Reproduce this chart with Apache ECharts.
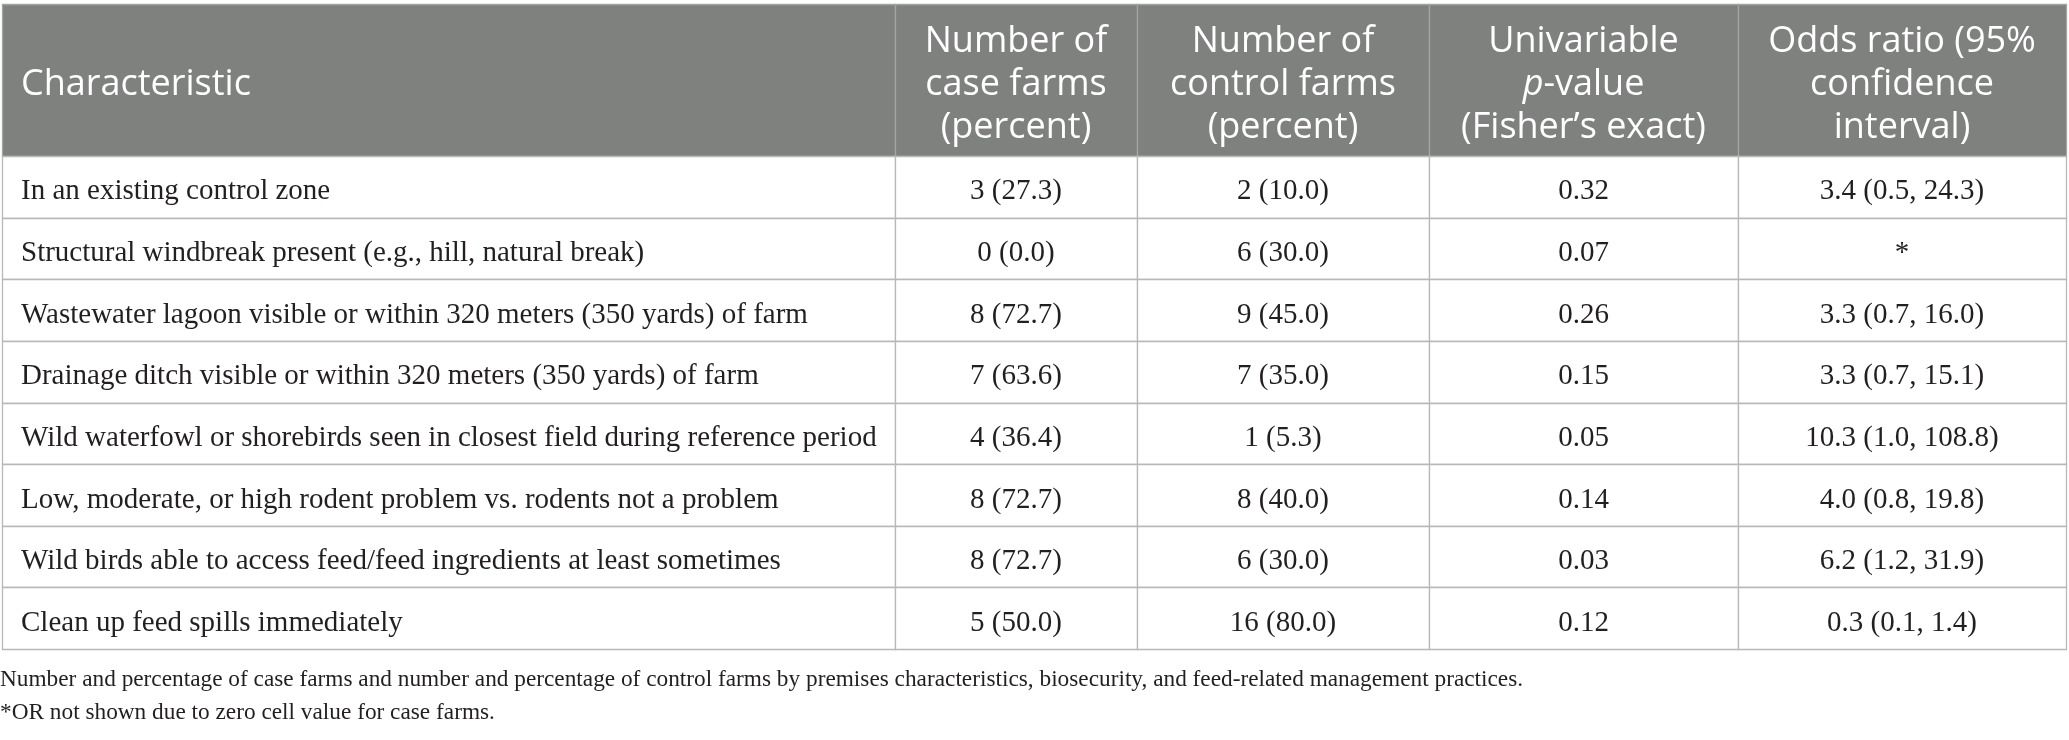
<!DOCTYPE html>
<html>
<head>
<meta charset="utf-8">
<title>Case-control farm characteristics</title>
<script src="https://cdn.jsdelivr.net/npm/echarts@6/dist/echarts.min.js"></script>
<style>
    html, body { margin: 0; padding: 0; background: #fff; }
    #main { width: 2069px; height: 740px; }
</style>
</head>
<body>
<div id="main"></div>
<script>
    // table content
    var characteristics = [
        'In an existing control zone',
        'Structural windbreak present (e.g., hill, natural break)',
        'Wastewater lagoon visible or within 320 meters (350 yards) of farm',
        'Drainage ditch visible or within 320 meters (350 yards) of farm',
        'Wild waterfowl or shorebirds seen in closest field during reference period',
        'Low, moderate, or high rodent problem vs. rodents not a problem',
        'Wild birds able to access feed/feed ingredients at least sometimes',
        'Clean up feed spills immediately'
    ];
    var caseCounts = [3, 0, 8, 7, 4, 8, 8, 5];
    var casePct = [27.3, 0.0, 72.7, 63.6, 36.4, 72.7, 72.7, 50.0];
    var controlCounts = [2, 6, 9, 7, 1, 8, 6, 16];
    var controlPct = [10.0, 30.0, 45.0, 35.0, 5.3, 40.0, 30.0, 80.0];
    var pValues = [0.32, 0.07, 0.26, 0.15, 0.05, 0.14, 0.03, 0.12];
    var oddsRatio = [3.4, null, 3.3, 3.3, 10.3, 4.0, 6.2, 0.3];
    var orLower = [0.5, null, 0.7, 0.7, 1.0, 0.8, 1.2, 0.1];
    var orUpper = [24.3, null, 16.0, 15.1, 108.8, 19.8, 31.9, 1.4];

    var headers = [
        '{h|Characteristic}',
        '{h|Number of}\n{h|case farms}\n{h|(percent)}',
        '{h|Number of}\n{h|control farms}\n{h|(percent)}',
        '{h|Univariable}\n{hi|p}{h|-value}\n{h|(Fisher\u2019s exact)}',
        '{h|Odds ratio (95%}\n{h|confidence}\n{h|interval)}'
    ];
    var footnotes = [
        'Number and percentage of case farms and number and percentage of control farms by premises characteristics, biosecurity, and feed-related management practices.',
        '*OR not shown due to zero cell value for case farms.'
    ];

    // layout (in grid units = pixels)
    var colEdges = [0, 893, 1135, 1427, 1736, 2064];
    var tableH = 645;
    var headerH = 152;
    var rowH = (tableH - headerH) / characteristics.length;

    var headFont = '"Open Sans", "Noto Sans", sans-serif';
    var bodyFont = '"Liberation Serif", "DejaVu Serif", serif';

    function cellText(col, row) {
        if (row < 0) return headers[col];
        if (col === 0) return characteristics[row];
        if (col === 1) return caseCounts[row] + ' (' + casePct[row].toFixed(1) + ')';
        if (col === 2) return controlCounts[row] + ' (' + controlPct[row].toFixed(1) + ')';
        if (col === 3) return pValues[row].toFixed(2);
        if (oddsRatio[row] == null) return '*';
        return oddsRatio[row].toFixed(1) + ' (' + orLower[row].toFixed(1) + ', ' + orUpper[row].toFixed(1) + ')';
    }

    var cells = [];
    for (var r = -1; r < characteristics.length; r++) {
        for (var c = 0; c < colEdges.length - 1; c++) {
            cells.push([c, r]);
        }
    }

    function renderItem(params, api) {
        var col = api.value(0);
        var row = api.value(1);
        var y0 = row < 0 ? 0 : headerH + row * rowH;
        var y1 = row < 0 ? headerH : y0 + rowH;
        var p0 = api.coord([colEdges[col], y0]);
        var p1 = api.coord([colEdges[col + 1], y1]);
        var isHead = row < 0;
        var left = col === 0;
        var tx = left ? p0[0] + 19 : (p0[0] + p1[0]) / 2;
        var ty = (p0[1] + p1[1]) / 2;
        var textStyle;
        if (isHead) {
            textStyle = {
                x: tx, y: ty + 5,
                text: cellText(col, row),
                align: left ? 'left' : 'center',
                verticalAlign: 'middle',
                rich: {
                    h: { fontFamily: headFont, fontSize: 36, lineHeight: 43, fill: '#ffffff' },
                    hi: { fontFamily: headFont, fontSize: 36, lineHeight: 43, fill: '#ffffff', fontStyle: 'italic' }
                }
            };
        } else {
            textStyle = {
                x: tx, y: ty + 5,
                text: cellText(col, row),
                align: left ? 'left' : 'center',
                verticalAlign: 'middle',
                fontFamily: bodyFont,
                fontSize: 29,
                fill: '#231f20'
            };
        }
        return {
            type: 'group',
            children: [{
                type: 'rect',
                shape: {
                    x: Math.round(p0[0]) + 0.5,
                    y: Math.round(p0[1]) + 0.5,
                    width: Math.round(p1[0]) - Math.round(p0[0]),
                    height: Math.round(p1[1]) - Math.round(p0[1])
                },
                style: {
                    fill: isHead ? '#7f817f' : '#ffffff',
                    stroke: isHead ? '#a3a5a3' : '#b8b8b8',
                    lineWidth: 1.3
                }
            }, {
                type: 'text',
                style: textStyle
            }]
        };
    }

    var myChart = echarts.init(document.getElementById('main'));
    myChart.setOption({
        animation: false,
        title: {
            text: footnotes.join('\n'),
            left: 0,
            top: 663,
            padding: 0,
            textStyle: {
                fontFamily: bodyFont,
                fontSize: 23.3,
                fontWeight: 'normal',
                color: '#231f20',
                lineHeight: 33
            }
        },
        grid: { left: 2, top: 4, width: 2064, height: tableH },
        xAxis: { type: 'value', min: 0, max: 2064, show: false },
        yAxis: { type: 'value', min: 0, max: tableH, inverse: true, show: false },
        series: [{
            type: 'custom',
            renderItem: renderItem,
            data: cells,
            silent: true
        }]
    });
</script>
</body>
</html>
